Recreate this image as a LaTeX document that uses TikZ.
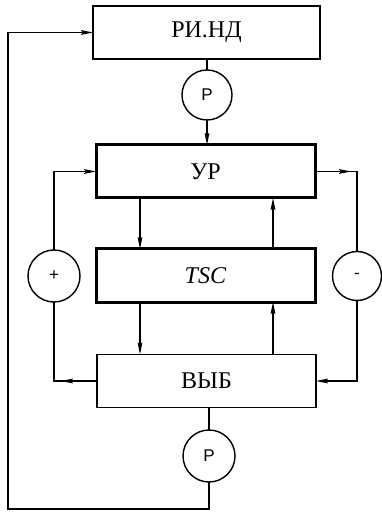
\documentclass[tikz,border=0pt]{standalone}
\usepackage{fontspec}
\setmainfont{Liberation Serif}
\setsansfont{Liberation Sans}
\usetikzlibrary{arrows.meta}

\tikzset{
    blk/.style={draw, rectangle, inner sep=0pt, outer sep=0pt, line width=0.7pt,
        minimum width=109.5pt, minimum height=26.5pt, font=\fontsize{12}{14}\selectfont},
    thickblk/.style={blk, line width=1.5pt},
    rnd/.style={draw, circle, inner sep=0pt, outer sep=0pt, line width=0.7pt,
        minimum size=26pt, font=\sffamily\fontsize{8.5}{9}\selectfont},
}

\begin{document}
\begin{tikzpicture}[x=0.5pt, y=-0.5pt, line width=0.7pt,
    -{Stealth[length=6pt, width=2.4pt, inset=1pt]}]
    \useasboundingbox (0,0) rectangle (381,512);

    % Blocks
    \node[blk, minimum width=113.5pt] (rind) at (206.5, 32.5) {РИ.НД};
    \node[thickblk] (ur) at (205.5, 171.5) {УР};
    \node[thickblk] (tsc) at (205.5, 275.5) {\textit{TSC}};
    \node[blk] (vyb) at (206.5, 381) {ВЫБ};

    % Circles
    \node[rnd, minimum size=25pt] (p1) at (207, 95) {Р};
    \node[rnd] (p2) at (209, 456) {Р};
    \node[rnd] (plus) at (54, 276) {+};
    \node[rnd, minimum size=24.5pt] (minus) at (357, 276) {-};

    % Corners and columns
    \coordinate (lb) at (8, 509);
    \coordinate (lcb) at (54, 381);
    \coordinate (rct) at (357, 171.5);
    \coordinate (dn) at (140, 0);
    \coordinate (up) at (273, 0);

    % Main chain
    \draw[-] (rind.south -| p1) -- (p1.north);
    \draw (p1.south) -- (ur.north -| p1);
    \draw (ur.south -| dn) -- (tsc.north -| dn);
    \draw (tsc.south -| dn) -- (vyb.north -| dn);
    \draw (tsc.north -| up) -- (ur.south -| up);
    \draw (vyb.north -| up) -- (tsc.south -| up);

    % Left loop (+)
    \draw[-] (vyb.west) -- (lcb) -- (plus.south);
    \draw (vyb.west) -- ([xshift=3.5pt]lcb);
    \draw (plus.north) |- (ur.west);

    % Right loop (-)
    \draw[-] (ur.east) -| (minus.north);
    \draw (ur.east) -- ([xshift=-3pt]rct);
    \draw (minus.south) |- (vyb.east);

    % Return loop
    \draw[-] (vyb.south -| p2) -- (p2.north);
    \draw (p2.south) |- (lb) |- (rind.west);
\end{tikzpicture}
\end{document}
